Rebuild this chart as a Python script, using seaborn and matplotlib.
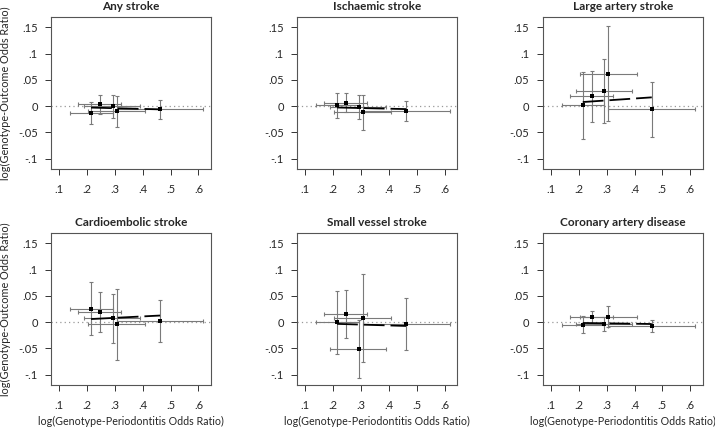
import numpy as np
import pandas as pd
import matplotlib
matplotlib.use("Agg")
import matplotlib.pyplot as plt
import seaborn as sns

# SNP-periodontitis associations (same for every outcome)
x_snp = [0.214, 0.246, 0.292, 0.306, 0.462]
x_lo = [0.138, 0.168, 0.190, 0.203, 0.306]
x_hi = [0.292, 0.323, 0.391, 0.409, 0.618]

outcomes = ["Any stroke", "Ischaemic stroke", "Large artery stroke",
            "Cardioembolic stroke", "Small vessel stroke", "Coronary artery disease"]

# SNP-outcome associations: estimate, lower, upper
any_y = [-0.0128, 0.0032, 0.0000, -0.0102, -0.0064]
any_lo = [-0.0345, -0.0147, -0.0230, -0.0397, -0.0237]
any_hi = [0.0083, 0.0205, 0.0210, 0.0198, 0.0120]

isch_y = [0.0013, 0.0064, -0.0026, -0.0120, -0.0096]
isch_lo = [-0.0218, -0.0120, -0.0256, -0.0448, -0.0294]
isch_hi = [0.0250, 0.0250, 0.0205, 0.0205, 0.0096]

las_y = [0.0019, 0.0186, 0.0280, 0.0620, -0.0064]
las_lo = [-0.0620, -0.0300, -0.0320, -0.0280, -0.0590]
las_hi = [0.0659, 0.0670, 0.0890, 0.1530, 0.0467]

ces_y = [0.0256, 0.0186, 0.0070, -0.0038, 0.0019]
ces_lo = [-0.0250, -0.0186, -0.0400, -0.0720, -0.0377]
ces_hi = [0.0760, 0.0570, 0.0544, 0.0640, 0.0416]

svs_y = [-0.0006, 0.0154, -0.0520, 0.0083, -0.0032]
svs_lo = [-0.0610, -0.0300, -0.1070, -0.0755, -0.0525]
svs_hi = [0.0590, 0.0610, 0.0040, 0.0915, 0.0454]

cad_y = [-0.0054, 0.0099, -0.0035, 0.0099, -0.0074]
cad_lo = [-0.0214, -0.0010, -0.0176, -0.0099, -0.0195]
cad_hi = [0.0112, 0.0208, 0.0099, 0.0298, 0.0035]

# IVW slope per outcome (line through origin)
ivw_slope = [-0.0135, -0.0125, 0.036, 0.027, -0.016, -0.008]

x_ticks = [0.1, 0.2, 0.3, 0.4, 0.5, 0.6]
x_ticklabels = [".1", ".2", ".3", ".4", ".5", ".6"]
y_ticks = [-0.1, -0.05, 0, 0.05, 0.1, 0.15]
y_ticklabels = ["-.1", "-.05", "0", ".05", ".1", ".15"]

ys = [any_y, isch_y, las_y, ces_y, svs_y, cad_y]
los = [any_lo, isch_lo, las_lo, ces_lo, svs_lo, cad_lo]
his = [any_hi, isch_hi, las_hi, ces_hi, svs_hi, cad_hi]

rows = []
for name, y, lo, hi in zip(outcomes, ys, los, his):
    for i in range(len(x_snp)):
        rows.append({"outcome": name, "x": x_snp[i], "x_lo": x_lo[i], "x_hi": x_hi[i],
                     "y": y[i], "y_lo": lo[i], "y_hi": hi[i]})
df = pd.DataFrame(rows)

sns.set_style("ticks")
plt.rcParams["font.family"] = ["Lato", "DejaVu Sans"]

fig = plt.figure(figsize=(7.15, 4.32), dpi=100)

lefts = [0.0713, 0.4154, 0.759]
bottoms = [0.6088, 0.1088]
w, h = 0.2238, 0.352

for k, name in enumerate(outcomes):
    r, c = divmod(k, 3)
    ax = fig.add_axes([lefts[c], bottoms[r], w, h])
    d = df[df["outcome"] == name]

    ax.axhline(0, color="#999999", lw=0.9, ls=(0, (1, 2.5)), zorder=1)

    ax.errorbar(d["x"], d["y"],
                xerr=[d["x"] - d["x_lo"], d["x_hi"] - d["x"]],
                yerr=[d["y"] - d["y_lo"], d["y_hi"] - d["y"]],
                fmt="none", ecolor="#7a7a7a", elinewidth=0.8,
                capsize=1.3, capthick=0.8, zorder=2)

    sns.scatterplot(data=d, x="x", y="y", marker="s", s=10, color="black",
                    edgecolor="black", linewidth=0, ax=ax, zorder=4)

    xl = np.array([d["x"].min(), d["x"].max()])
    ax.plot(xl, ivw_slope[k] * xl, color="black", lw=1.3,
            dashes=(11.5, 3.3), zorder=3)

    ax.set_xlim(0.07, 0.645)
    ax.set_ylim(-0.12, 0.17)
    ax.set_xticks(x_ticks)
    ax.set_xticklabels(x_ticklabels)
    ax.set_yticks(y_ticks)
    ax.set_yticklabels(y_ticklabels)
    ax.tick_params(labelsize=8, length=4.5, width=0.7, color="#333333",
                   pad=5)
    ax.tick_params(axis="x", pad=6)
    for sp in ax.spines.values():
        sp.set_color("#555555")
        sp.set_linewidth(0.8)

    ax.set_title(name, fontsize=8.5, fontweight="bold", pad=5)
    ax.set_xlabel("log(Genotype-Periodontitis Odds Ratio)" if r == 1 else "",
                  fontsize=7.7, labelpad=4)
    ax.set_ylabel("log(Genotype-Outcome Odds Ratio)" if c == 0 else "",
                  fontsize=7.8, labelpad=5)

fig.savefig("out.png", dpi=100)
